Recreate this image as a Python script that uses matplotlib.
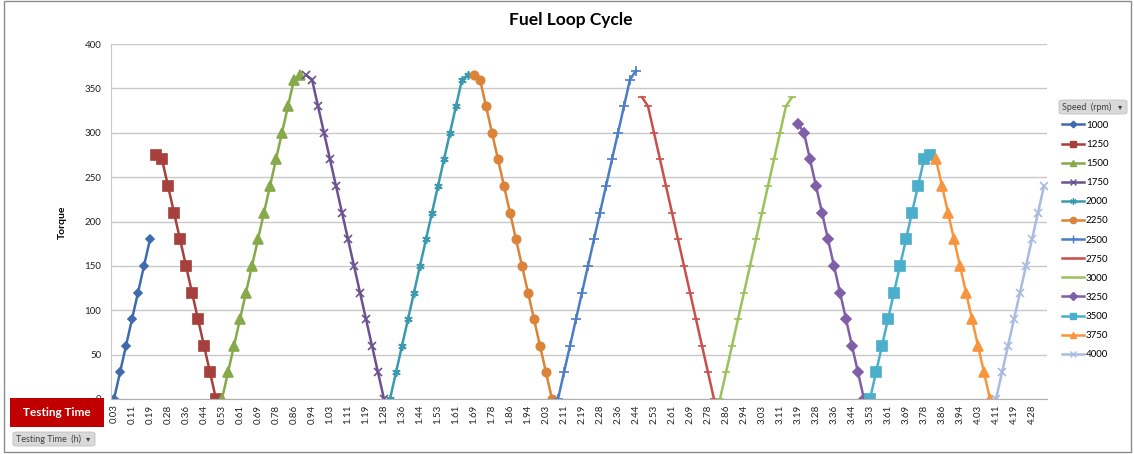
import matplotlib.pyplot as plt
from matplotlib.patches import FancyBboxPatch, Rectangle
from matplotlib.lines import Line2D

plt.rcParams['font.family'] = ['Lato', 'DejaVu Sans']

# testing time categories (h), one every 100 s
time_h = [
    0.03, 0.06, 0.08, 0.11, 0.14, 0.17, 0.19, 0.22, 0.25, 0.28, 0.31, 0.33,
    0.36, 0.39, 0.42, 0.44, 0.47, 0.50, 0.53, 0.56, 0.58, 0.61, 0.64, 0.67,
    0.69, 0.72, 0.75, 0.78, 0.81, 0.83, 0.86, 0.89, 0.92, 0.94, 0.97, 1.00,
    1.03, 1.06, 1.08, 1.11, 1.14, 1.17, 1.19, 1.22, 1.25, 1.28, 1.31, 1.33,
    1.36, 1.39, 1.42, 1.44, 1.47, 1.50, 1.53, 1.56, 1.58, 1.61, 1.64, 1.67,
    1.69, 1.72, 1.75, 1.78, 1.81, 1.83, 1.86, 1.89, 1.92, 1.94, 1.97, 2.00,
    2.03, 2.06, 2.08, 2.11, 2.14, 2.17, 2.19, 2.22, 2.25, 2.28, 2.31, 2.33,
    2.36, 2.39, 2.42, 2.44, 2.47, 2.50, 2.53, 2.56, 2.58, 2.61, 2.64, 2.67,
    2.69, 2.72, 2.75, 2.78, 2.81, 2.83, 2.86, 2.89, 2.92, 2.94, 2.97, 3.00,
    3.03, 3.06, 3.08, 3.11, 3.14, 3.17, 3.19, 3.22, 3.25, 3.28, 3.31, 3.33,
    3.36, 3.39, 3.42, 3.44, 3.47, 3.50, 3.53, 3.56, 3.58, 3.61, 3.64, 3.67,
    3.69, 3.72, 3.75, 3.78, 3.81, 3.83, 3.86, 3.89, 3.92, 3.94, 3.97, 4.00,
    4.03, 4.06, 4.08, 4.11, 4.14, 4.17, 4.19, 4.22, 4.25, 4.28, 4.31, 4.33,
]

speeds = ["1000", "1250", "1500", "1750", "2000", "2250", "2500",
          "2750", "3000", "3250", "3500", "3750", "4000"]

# first testing time of each speed step
start_h = [0.03, 0.22, 0.53, 0.92, 1.31, 1.69, 2.08,
           2.47, 2.83, 3.19, 3.53, 3.83, 4.11]

torque_1000 = [0, 30, 60, 90, 120, 150, 180]
torque_1250 = [275, 270, 240, 210, 180, 150, 120, 90, 60, 30, 0]
torque_1500 = [0, 30, 60, 90, 120, 150, 180, 210, 240, 270, 300, 330, 360, 365]
torque_1750 = [365, 360, 330, 300, 270, 240, 210, 180, 150, 120, 90, 60, 30, 0]
torque_2000 = [0, 30, 60, 90, 120, 150, 180, 210, 240, 270, 300, 330, 360, 365]
torque_2250 = [365, 360, 330, 300, 270, 240, 210, 180, 150, 120, 90, 60, 30, 0]
torque_2500 = [0, 30, 60, 90, 120, 150, 180, 210, 240, 270, 300, 330, 360, 370]
torque_2750 = [340, 330, 300, 270, 240, 210, 180, 150, 120, 90, 60, 30, 0]
torque_3000 = [0, 30, 60, 90, 120, 150, 180, 210, 240, 270, 300, 330, 340]
torque_3250 = [310, 300, 270, 240, 210, 180, 150, 120, 90, 60, 30, 0]
torque_3500 = [0, 30, 60, 90, 120, 150, 180, 210, 240, 270, 275]
torque_3750 = [270, 240, 210, 180, 150, 120, 90, 60, 30, 0]
torque_4000 = [0, 30, 60, 90, 120, 150, 180, 210, 240]

torques = [torque_1000, torque_1250, torque_1500, torque_1750, torque_2000,
           torque_2250, torque_2500, torque_2750, torque_3000, torque_3250,
           torque_3500, torque_3750, torque_4000]

colors = ["#3F6BAE", "#A5403C", "#86A94A", "#6B5190", "#3A9AB0", "#DB8339",
          "#4A7DC6", "#C94F4C", "#9BC25A", "#7F5FA6", "#4BAECB", "#F7953F",
          "#A9BBE0"]
markers = ["D", "s", "^", "x", (6, 2, 0), "o", "+", "_", "_", "D", "s", "^", "x"]
msizes = [4.5, 6.5, 6.5, 6, 6, 6, 7, 6, 6, 5, 6.5, 6.5, 6]

fig = plt.figure(figsize=(11.34, 4.54), dpi=100)
ax = fig.add_axes([111 / 1134, 1 - 399 / 454, 936 / 1134, 355 / 454])

handles = []
for speed, start, vals, c, m, ms in zip(speeds, start_h, torques, colors, markers, msizes):
    i0 = time_h.index(start)
    xs = list(range(i0, i0 + len(vals)))
    ax.plot(xs, vals, color=c, lw=1.8, marker=m, ms=ms, mfc=c, mec=c, mew=1.2,
            solid_joinstyle="round")
    handles.append(Line2D([], [], color=c, lw=1.8, marker=m, ms=ms * 0.75,
                          mfc=c, mec=c, mew=1.0))

ax.set_xlim(-0.5, len(time_h) - 0.5)
ax.set_ylim(0, 400)
ax.set_yticks(range(0, 401, 50))
ax.set_xticks(range(0, len(time_h), 3))
ax.set_xticklabels(["%.2f" % t for t in time_h[::3]], rotation=90)
ax.tick_params(axis="both", length=0, labelsize=7, colors="#222222")
ax.tick_params(axis="x", pad=4)
ax.tick_params(axis="y", pad=7)
ax.grid(axis="y", color="#C8C8C8", lw=1)
ax.set_axisbelow(True)
for side in ["top", "right"]:
    ax.spines[side].set_visible(False)
ax.spines["left"].set_color("#C8C8C8")
ax.spines["bottom"].set_color("#B0B0B0")

fig.text(571 / 1134, 1 - 20 / 454, "Fuel Loop Cycle", ha="center", va="center",
         fontsize=12.5, fontweight="bold")
fig.text(62 / 1134, 1 - 222 / 454, "Torque", ha="center", va="center",
         rotation=90, fontsize=7.5, fontweight="bold")

leg = fig.legend(handles, speeds, loc="upper left",
                 bbox_to_anchor=(1058 / 1134, 1 - 117 / 454), frameon=False,
                 fontsize=7, handlelength=2.3, handletextpad=0.15,
                 labelspacing=1.04, borderaxespad=0)

# pivot field buttons
fig.patches.append(FancyBboxPatch((1059 / 1134, 1 - 114 / 454), 68 / 1134, 14 / 454,
                                  boxstyle="round,pad=0,rounding_size=0.004",
                                  transform=fig.transFigure, fc="#D9D9D9",
                                  ec="#C0C0C0", lw=0.6))
fig.text(1062 / 1134, 1 - 107 / 454, "Speed  (rpm)", ha="left", va="center",
         fontsize=6.5, color="#404040")
fig.text(1120 / 1134, 1 - 107 / 454, "\u25be", ha="center", va="center",
         fontsize=6, color="#404040", family="DejaVu Sans")

fig.patches.append(Rectangle((10 / 1134, 1 - 427 / 454), 94 / 1134, 29 / 454,
                             transform=fig.transFigure, fc="#C00000", ec="none"))
fig.text(57 / 1134, 1 - 412 / 454, "Testing Time", ha="center", va="center",
         fontsize=8.5, fontweight="bold", color="white")

fig.patches.append(FancyBboxPatch((13 / 1134, 1 - 446 / 454), 82 / 1134, 14 / 454,
                                  boxstyle="round,pad=0,rounding_size=0.004",
                                  transform=fig.transFigure, fc="#D9D9D9",
                                  ec="#C0C0C0", lw=0.6))
fig.text(16 / 1134, 1 - 439 / 454, "Testing Time  (h)", ha="left", va="center",
         fontsize=6.5, color="#404040")
fig.text(88 / 1134, 1 - 439 / 454, "\u25be", ha="center", va="center",
         fontsize=6, color="#404040", family="DejaVu Sans")

# chart area border
fig.patches.append(Rectangle((4 / 1134, 2 / 454), 1127 / 1134, 451 / 454,
                             transform=fig.transFigure, fc="none",
                             ec="#8C8C8C", lw=1))

fig.savefig("out.png", dpi=100)
